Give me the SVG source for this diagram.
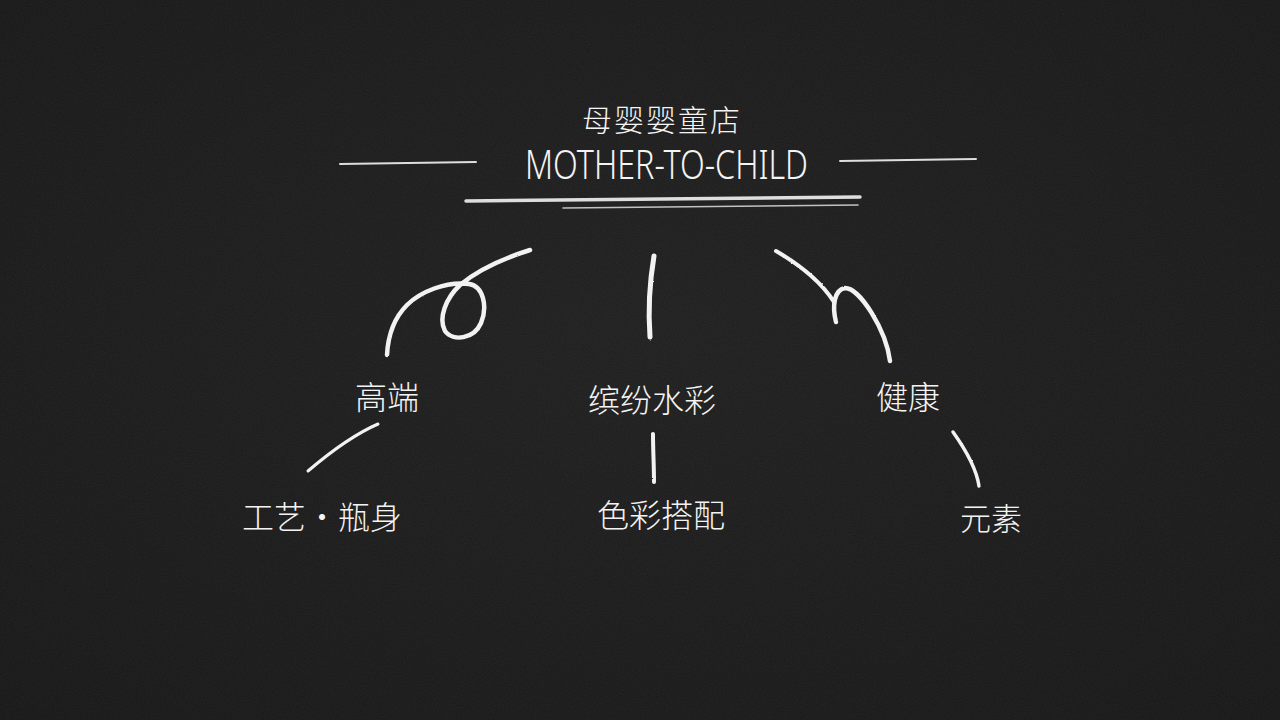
<svg xmlns="http://www.w3.org/2000/svg" width="1280" height="720" viewBox="0 0 1280 720">
  <defs>
    <filter id="grain" x="0" y="0" width="100%" height="100%">
      <feTurbulence type="fractalNoise" baseFrequency="0.9" numOctaves="2" seed="3" result="n"/>
      <feColorMatrix type="matrix" values="0 0 0 0 1  0 0 0 0 1  0 0 0 0 1  0 0 0 0.06 0"/>
    </filter>
    <filter id="chalk" x="-10%" y="-10%" width="120%" height="120%">
      <feTurbulence type="fractalNoise" baseFrequency="0.6" numOctaves="2" seed="7" result="t"/>
      <feDisplacementMap in="SourceGraphic" in2="t" scale="1.6" xChannelSelector="R" yChannelSelector="G"/>
    </filter>
    <radialGradient id="vig" cx="50%" cy="45%" r="75%">
      <stop offset="0" stop-color="#1e1e1e"/>
      <stop offset="1" stop-color="#161616"/>
    </radialGradient>
  </defs>
  <style>
    .cn { font-family: "Noto Sans CJK SC", "Noto Sans", sans-serif; font-weight: 300; fill: #f4f4f4; text-anchor: middle; }
    .en { font-family: "Noto Sans", "Liberation Sans", sans-serif; font-weight: 300; fill: #f4f4f4; }
    .stroke { fill: none; stroke: #f2f2f2; stroke-linecap: round; stroke-linejoin: round; }
    .rule { fill: none; stroke: #dedede; stroke-linecap: round; }
  </style>

  <rect width="1280" height="720" fill="url(#vig)"/>
  <rect width="1280" height="720" filter="url(#grain)"/>

  <g id="title">
    <text class="cn" x="662" y="131" font-size="30" letter-spacing="2">母婴婴童店</text>
    <text class="en" x="525" y="179" font-size="40" textLength="283" lengthAdjust="spacingAndGlyphs">MOTHER-TO-CHILD</text>
    <line class="rule" x1="340" y1="164" x2="476" y2="162" stroke-width="2"/>
    <line class="rule" x1="840" y1="161" x2="976" y2="159" stroke-width="2"/>
    <path class="rule" d="M466,201 L860,197" stroke-width="3.5"/>
    <path class="rule" d="M563,208 L858,205" stroke-width="1.6" opacity="0.85"/>
  </g>

  <g id="connectors" filter="url(#chalk)">
    <path class="stroke" stroke-width="4.5" d="M530,250 C505,258 478,270 460,285 C446,298 438,318 445,331 C453,342 474,339 481,323 C488,306 483,286 469,284 C446,281 420,292 407,305 C394,318 388,336 387,355"/>
    <path class="stroke" stroke-width="5" d="M654,256 C650,280 648,310 650,337"/>
    <path class="stroke" stroke-width="4" d="M776,251 C800,265 822,283 834,302"/>
    <path class="stroke" stroke-width="4.5" d="M836,322 C832,306 834,290 845,288 C860,288 886,330 890,361"/>
    <path class="stroke" stroke-width="3" d="M378,424 C355,434 335,448 308,471"/>
    <path class="stroke" stroke-width="4" d="M653,434 C653,450 654,466 654,482"/>
    <path class="stroke" stroke-width="3.5" d="M953,432 C963,446 976,466 979,486"/>
  </g>

  <g id="node-gaoduan"><text class="cn" x="387" y="409" font-size="32">高端</text></g>
  <g id="node-binfen"><text class="cn" x="652" y="412" font-size="32">缤纷水彩</text></g>
  <g id="node-jiankang"><text class="cn" x="908" y="409" font-size="32">健康</text></g>
  <g id="node-gongyi"><text class="cn" x="322" y="529" font-size="32">工艺·瓶身</text></g>
  <g id="node-secai"><text class="cn" x="661" y="527" font-size="32">色彩搭配</text></g>
  <g id="node-yuansu"><text class="cn" x="991" y="530" font-size="31">元素</text></g>
</svg>
